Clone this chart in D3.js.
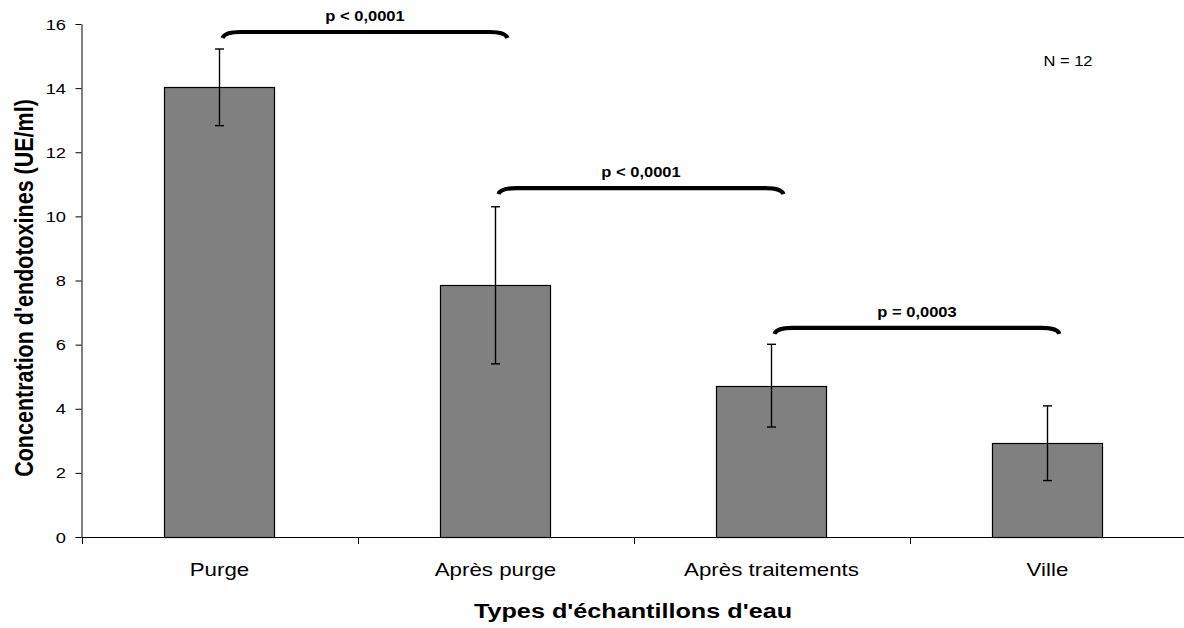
<!DOCTYPE html>
<html>
<head>
<meta charset="utf-8">
<script src="https://cdn.jsdelivr.net/npm/d3@7"></script>
<style>
  body{margin:0;background:#fff;}
  svg{display:block;font-family:Arial,"Liberation Sans",sans-serif;}
</style>
</head>
<body>
<div id="chart"></div>
<script>
// data
const categories = ['Purge', 'Après purge', 'Après traitements', 'Ville'];
const means = [14.02, 7.85, 4.71, 2.92];
const errLow = [12.83, 5.40, 3.43, 1.76];
const errHigh = [15.22, 10.30, 6.01, 4.09];
const yTicks = [0, 2, 4, 6, 8, 10, 12, 14, 16];
const brackets = [
  {from: 0, to: 1, level: 15.75, label: 'p < 0,0001'},
  {from: 1, to: 2, level: 10.88, label: 'p < 0,0001'},
  {from: 2, to: 3, level: 6.52, label: 'p = 0,0003'}
];

const W = 1184, H = 628;
const svg = d3.select('#chart').append('svg').attr('width', W).attr('height', H);

const x = d3.scaleBand().domain(categories).range([81.5, 1185.5]).paddingInner(0.6).paddingOuter(0.3);
const y = d3.scaleLinear().domain([0, 16]).range([537, 24]);
const cx = i => x(categories[i]) + x.bandwidth()/2;

// the original text is a bit wider than plain Arial, so stretch it horizontally
function label(px, py, txt, size, o = {}){
  const t = svg.append('text')
    .attr('transform', `translate(${px},${py}) scale(${o.sx || 1},1)` + (o.rot ? ` rotate(${o.rot})` : ''))
    .attr('text-anchor', o.anchor || 'middle')
    .attr('font-size', size).attr('font-weight', o.bold ? 'bold' : 'normal')
    .attr('fill', '#000').text(txt);
  return t;
}

// y axis
const yAx = svg.append('g').attr('transform', 'translate(81.5,0)')
  .call(d3.axisLeft(y).tickValues(yTicks).tickSize(6).tickSizeOuter(0).tickFormat(''));
yAx.select('.domain').attr('stroke', '#000');
yAx.selectAll('.tick line').attr('stroke', '#000');
yTicks.forEach(v => label(66, y(v) + 5.5, String(v), 15, {anchor: 'end', sx: 1.22}));

// x axis line + ticks at category boundaries
svg.append('line').attr('x1', 81.5).attr('x2', W).attr('y1', y(0) + 0.5).attr('y2', y(0) + 0.5).attr('stroke', '#000');
const bounds = categories.map(c => x(c) - x.step()*x.paddingInner()/2);
bounds[0] = 81.5;
svg.selectAll('.xtick').data(bounds).enter().append('line')
  .attr('x1', d => Math.round(d) + 0.5).attr('x2', d => Math.round(d) + 0.5)
  .attr('y1', y(0)).attr('y2', y(0) + 7).attr('stroke', '#000');
categories.forEach((c, i) => label(cx(i), 576, c, 18, {sx: 1.24}));

// bars
svg.selectAll('.bar').data(means).enter().append('rect')
  .attr('x', (d, i) => Math.round(x(categories[i])) + 0.5)
  .attr('y', d => Math.round(y(d)) + 0.5)
  .attr('width', Math.round(x.bandwidth()))
  .attr('height', d => y(0) - Math.round(y(d)))
  .attr('fill', '#808080').attr('stroke', '#000').attr('stroke-width', 1.2);

// error bars
const eb = svg.selectAll('.err').data(means).enter().append('g').attr('stroke', '#000').attr('stroke-width', 1.4);
eb.append('line').attr('x1', (d, i) => cx(i)).attr('x2', (d, i) => cx(i))
  .attr('y1', (d, i) => y(errLow[i])).attr('y2', (d, i) => y(errHigh[i]));
eb.append('line').attr('x1', (d, i) => cx(i) - 4.5).attr('x2', (d, i) => cx(i) + 4.5)
  .attr('y1', (d, i) => y(errLow[i])).attr('y2', (d, i) => y(errLow[i]));
eb.append('line').attr('x1', (d, i) => cx(i) - 4.5).attr('x2', (d, i) => cx(i) + 4.5)
  .attr('y1', (d, i) => y(errHigh[i])).attr('y2', (d, i) => y(errHigh[i]));

// significance brackets
brackets.forEach(b => {
  const x0 = cx(b.from) + 3, x1 = cx(b.to) + 12, yy = y(b.level);
  svg.append('path')
    .attr('d', `M${x0},${yy + 6} Q${x0 + 2},${yy} ${x0 + 18},${yy} L${x1 - 18},${yy} Q${x1 - 2},${yy} ${x1},${yy + 6}`)
    .attr('fill', 'none').attr('stroke', '#000').attr('stroke-width', 4.2).attr('stroke-linecap', 'butt');
  label((x0 + x1)/2, yy - 11, b.label, 14, {bold: true, sx: 1.18});
});

label(1068, 66, 'N = 12', 15, {sx: 1.1});

// axis titles
label(633, 618, "Types d'échantillons d'eau", 21, {bold: true, sx: 1.2});
label(33, 288, "Concentration d'endotoxines (UE/ml)", 21.5, {bold: true, sx: 1.2, rot: -90});
</script>
</body>
</html>
